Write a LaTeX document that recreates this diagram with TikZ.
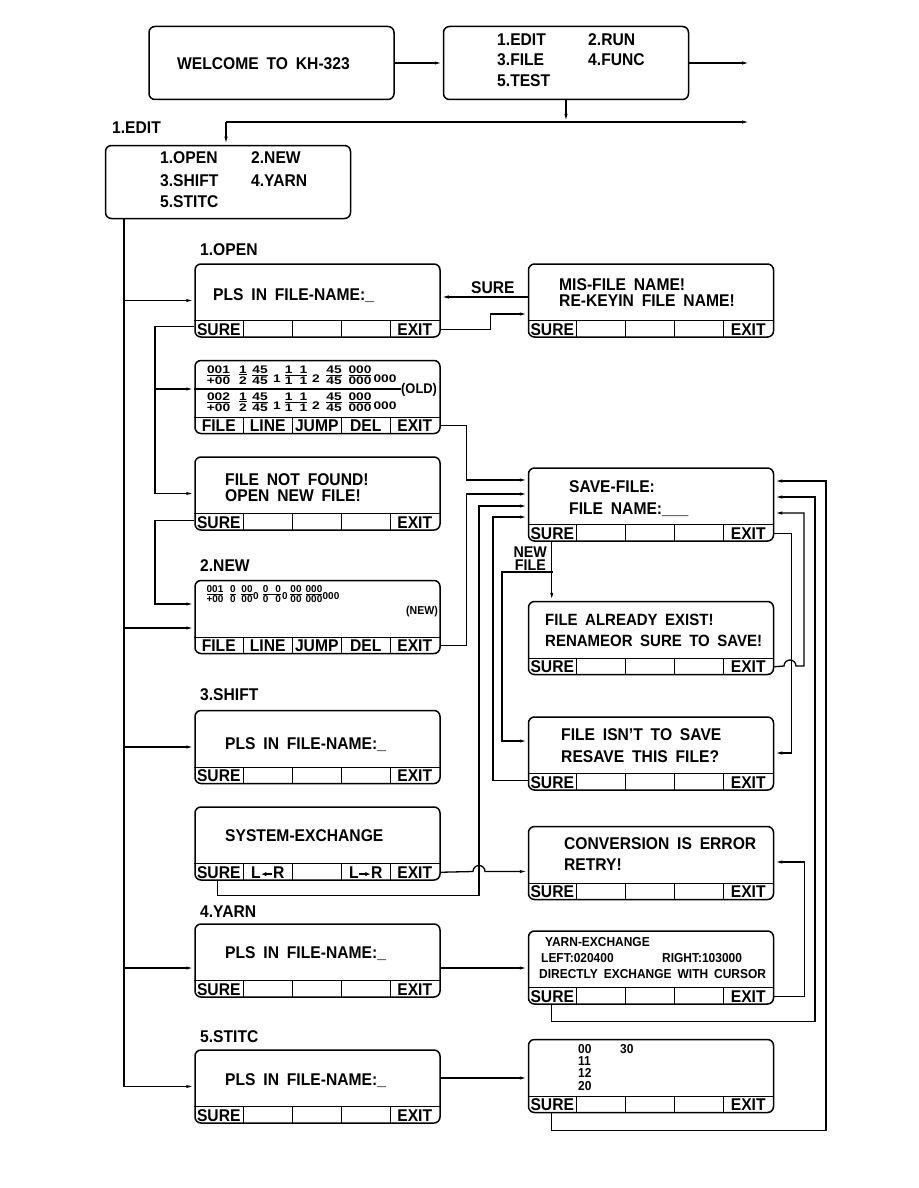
\documentclass[tikz,border=0pt]{standalone}
\usepackage{amsmath}
\usepackage{fontspec}
\setmainfont{Liberation Sans}[WordSpace=1.8,FakeStretch=0.92]
\newfontfamily\digf{Liberation Sans}[FakeStretch=1.25]
\newfontfamily\digs{Liberation Sans}
\usepackage{tikz}
\usetikzlibrary{arrows.meta,calc}
\tikzset{
  scr/.style={draw,line width=1.5pt,rounded corners=6pt,minimum width=245pt,minimum height=73pt,inner sep=0pt},
  ln/.style={line width=1.3pt},
  ar/.style={ln,-{Latex[length=8pt,width=3.2pt]}},
  tx/.style={anchor=base west,inner sep=0pt,font=\bfseries\fontsize{17}{18}\selectfont},
  sm/.style={anchor=base west,inner sep=0pt,font=\bfseries\fontsize{13}{14}\selectfont},
  key/.style={inner sep=0pt,font=\bfseries\fontsize{17}{17}\selectfont},
  fr/.style={inner sep=0pt,font=\digf\bfseries\fontsize{11}{11}\selectfont},
  frs/.style={inner sep=0pt,font=\digs\bfseries\fontsize{10}{10}\selectfont}
}
% soft keys along the bottom of a screen
\newcommand\fkeys[6]{%
  \draw[ln] ([yshift=17pt]#1.south west) -- ([yshift=17pt]#1.south east);
  \foreach \i in {1,...,4}
    \draw[ln] ([xshift=49pt*\i,yshift=17pt]#1.south west) -- ([xshift=49pt*\i]#1.south west);
  \foreach \k [count=\i] in {#2,#3,#4,#5,#6}
    \node[key] (#1-k\i) at ([xshift=49pt*\i-24.5pt,yshift=8.5pt]#1.south west) {\k};
}
\newcommand\fq[2]{\genfrac{}{}{1pt}{1}{\mbox{#1}}{\mbox{#2}}}
\newcommand\two[1]{#1\hspace{7pt}#1}
\newcommand\larr{\tikz[baseline=-4pt]\draw[{Latex[length=5pt,width=4.5pt]}-,line width=1.3pt] (0pt,0pt) -- (11pt,0pt);}
\newcommand\rarr{\tikz[baseline=-4pt]\draw[-{Latex[length=5pt,width=4.5pt]},line width=1.3pt] (0pt,0pt) -- (11pt,0pt);}

\begin{document}
\begin{tikzpicture}[x=1pt,y=-1pt]
\useasboundingbox (0,0) rectangle (918,1188);

% screens
\node[scr] (welcome) at (271.5,63) {};
\node[scr] (menu) at (566,63) {};
\node[scr] (edit) at (228,182) {};
\node[scr] (open) at (317.5,300.5) {};
\node[scr] (mis) at (651,300.5) {};
\node[scr] (old) at (317.5,397) {};
\node[scr] (nofile) at (317.5,493.5) {};
\node[scr] (new) at (317.5,617) {};
\node[scr] (shift) at (317.5,747) {};
\node[scr] (sysex) at (317.5,843.5) {};
\node[scr] (yarn) at (317.5,960.5) {};
\node[scr] (stitc) at (317.5,1086.5) {};
\node[scr] (save) at (651,504.5) {};
\node[scr] (exist) at (651,638) {};
\node[scr] (nosave) at (651,753.5) {};
\node[scr] (conv) at (651,863) {};
\node[scr] (yarnex) at (651,967.5) {};
\node[scr] (stlist) at (651,1076) {};

\fkeys{open}{SURE}{}{}{}{EXIT}
\fkeys{mis}{SURE}{}{}{}{EXIT}
\fkeys{old}{FILE}{LINE}{JUMP}{DEL}{EXIT}
\fkeys{nofile}{SURE}{}{}{}{EXIT}
\fkeys{new}{FILE}{LINE}{JUMP}{DEL}{EXIT}
\fkeys{shift}{SURE}{}{}{}{EXIT}
\fkeys{sysex}{SURE}{L\larr R}{}{L\rarr R}{EXIT}
\fkeys{yarn}{SURE}{}{}{}{EXIT}
\fkeys{stitc}{SURE}{}{}{}{EXIT}
\fkeys{save}{SURE}{}{}{}{EXIT}
\fkeys{exist}{SURE}{}{}{}{EXIT}
\fkeys{nosave}{SURE}{}{}{}{EXIT}
\fkeys{conv}{SURE}{}{}{}{EXIT}
\fkeys{yarnex}{SURE}{}{}{}{EXIT}
\fkeys{stlist}{SURE}{}{}{}{EXIT}

% texts
\node[tx] (t-wel) at (177,70) {WELCOME TO KH-323};
\node[tx] (t-m1) at (497,46) {1.EDIT};
\node[tx] (t-m2) at (588,46) {2.RUN};
\node[tx] (t-m3) at (497,66) {3.FILE};
\node[tx] (t-m4) at (588,66) {4.FUNC};
\node[tx] (t-m5) at (497,87) {5.TEST};
\node[tx] (l-edit) at (112,134) {1.EDIT};
\node[tx] (t-e1) at (160,164) {1.OPEN};
\node[tx] (t-e2) at (251,164) {2.NEW};
\node[tx] (t-e3) at (160,186) {3.SHIFT};
\node[tx] (t-e4) at (251,186) {4.YARN};
\node[tx] (t-e5) at (160,207) {5.STITC};
\node[tx] (l-open) at (200,255) {1.OPEN};
\node[tx] (t-open) at (213,300) {PLS IN FILE-NAME:\_};
\node[tx] (t-mis1) at (559,290) {MIS-FILE NAME!};
\node[tx] (t-mis2) at (559,306) {RE-KEYIN FILE NAME!};
% old file lines
\foreach \r/\y/\lab in {1/375/001,2/402/002}{
  \foreach \x/\n/\d [count=\i] in {218.5/\lab/+00,243/1/2,260/45/45,296/\two{1}/\two{1},334/45/45,360/000/000}
    \node[fr] (old\r-f\i) at (\x,\y) {$\fq{\n}{\d}$};
  \foreach \x/\s [count=\i] in {277/1,316/2,385/000}
    \node[fr] (old\r-d\i) at (\x,\y+4) {\s};
}
\draw[ln] (old.west |- 0,389) -- (401,389);
\node[anchor=west,inner sep=0pt,font=\bfseries\fontsize{14}{14}\selectfont] (t-oldtag) at (401,390) {(OLD)};
\node[tx] (t-nf1) at (225,485) {FILE NOT FOUND!};
\node[tx] (t-nf2) at (225,501) {OPEN NEW FILE!};
\node[tx] (l-new) at (200,571) {2.NEW};
% new file line
\foreach \x/\n/\d [count=\i] in {215/001/+00,233/0/0,247/00/00,272/\two{0}/\two{0},296/00/00,314/000/000}
  \node[frs] (new-f\i) at (\x,594) {$\fq{\n}{\d}$};
\foreach \x/\s [count=\i] in {256/0,285/0,331/000}
  \node[frs] (new-d\i) at (\x,596) {\s};
\node[anchor=west,inner sep=0pt,font=\bfseries\fontsize{11.5}{12}\selectfont] (t-newtag) at (406,612) {(NEW)};
\node[tx] (t-sv1) at (569,492) {SAVE-FILE:};
\node[tx] (t-sv2) at (569,514) {FILE NAME:\_\_\_};
\node[tx,font=\bfseries\fontsize{16.3}{18}\selectfont] (t-ex1) at (545,625) {FILE ALREADY EXIST!};
\node[tx,font=\bfseries\fontsize{16.3}{18}\selectfont] (t-ex2) at (545,646) {RENAMEOR SURE TO SAVE!};
\node[tx] (l-shift) at (200,700) {3.SHIFT};
\node[tx] (t-shift) at (225,749) {PLS IN FILE-NAME:\_};
\node[tx] (t-ns1) at (561,740) {FILE ISN'T TO SAVE};
\node[tx] (t-ns2) at (561,762) {RESAVE THIS FILE?};
\node[tx] (t-sys) at (225,841) {SYSTEM-EXCHANGE};
\node[tx] (t-cv1) at (564,849) {CONVERSION IS ERROR};
\node[tx] (t-cv2) at (564,870) {RETRY!};
\node[tx] (l-yarn) at (200,917) {4.YARN};
\node[tx] (t-yarn) at (225,958) {PLS IN FILE-NAME:\_};
\node[sm] (t-yx1) at (545,946) {YARN-EXCHANGE};
\node[sm] (t-yx2) at (541,962) {LEFT:020400};
\node[sm] (t-yx3) at (662,962) {RIGHT:103000};
\node[sm] (t-yx4) at (539,978) {DIRECTLY EXCHANGE WITH CURSOR};
\node[tx] (l-stitc) at (200,1042) {5.STITC};
\node[tx] (t-stitc) at (225,1085) {PLS IN FILE-NAME:\_};
\node[sm] (t-st1) at (578,1053) {00};
\node[sm] (t-st2) at (620,1053) {30};
\node[sm] (t-st3) at (578,1065) {11};
\node[sm] (t-st4) at (578,1077) {12};
\node[sm] (t-st5) at (578,1090) {20};

% top menu
\coordinate (out1) at (750,63);
\coordinate (out2) at (750,122);
\coordinate (bus) at (226,122);
\draw[ar] (welcome) -- (menu);
\draw[ar] (menu) -- (out1);
\draw[ar] (menu.south) -- (menu.south |- bus);
\draw[ar] (bus) -- (out2);
\draw[ar] (bus) -- (bus |- edit.north);

% edit trunk
\coordinate (trunk) at (124,218.5);
\draw[ar] (trunk) |- (stitc.west);
\draw[ar] (trunk |- open.west) -- (open.west);
\draw[ar] (trunk |- 0,628) -- (new.west |- 0,628);
\draw[ar] (trunk |- shift.west) -- (shift.west);
\draw[ar] (trunk |- 0,968) -- (yarn.west |- 0,968);

% open
\draw[ar] (mis.west |- 0,297) -- node[key,pos=0.4,above=3pt] (l-sure) {SURE} (open.east |- 0,297);
\draw[ar] ([yshift=8.5pt]open.south east) -- ++(50,0) |- (mis.west |- 0,314);
\draw[ar] ([yshift=11pt]open.south west) -| (155,493.5) -- (nofile.west);
\draw[ar] (155,389) -- (old.west |- 0,389);
\draw[ar] ([yshift=10pt]nofile.south west) -| (155,604) -- (new.west |- 0,604);

% into save-file
\draw[ar] ([yshift=8.5pt]old.south east) -- ++(26,0) |- (save.west |- 0,480);
\draw[ar] ([yshift=8.5pt]new.south east) -- ++(26,0) |- (save.west |- 0,494);
\draw[ar] ([xshift=23pt]sysex.south west) -- ++(0,15) -| (479,506) -- (save.west |- 0,506);
\draw[ar] ([yshift=10pt]nosave.south west) -| (493,517) -- (save.west |- 0,517);
\draw[ar] ([yshift=8.5pt]sysex.south east) -- (473,871.5) arc[start angle=180,end angle=0,radius=6pt] -- (conv.west |- 0,871.5);

% save-file keys
\coordinate (nf) at (552.5,572);
\draw[ar] ([xshift=24pt]save.south west) -- ([xshift=24pt]exist.north west);
\draw[ar] (nf) -| (502,741) -- (nosave.west |- 0,741);
\node[key,anchor=base east,font=\bfseries\fontsize{15.5}{13}\selectfont] (l-nf1) at (547,557) {NEW};
\node[key,anchor=base east,font=\bfseries\fontsize{15.5}{13}\selectfont] (l-nf2) at (546,570.5) {FILE};
\draw[ar] ([yshift=8.5pt]save.south east) -- ++(17,0) |- (nosave.east |- 0,753);
\draw[ar] ([yshift=8.5pt]exist.south east) -- (784,666) arc[start angle=180,end angle=0,radius=6pt] -- (804,666) |- (save.east |- 0,513);
\draw[ar] ([xshift=24pt]yarnex.south west) -- ++(0,17) -| (815,497) -- (save.east |- 0,497);
\draw[ar] ([xshift=24pt]stlist.south west) -- ++(0,17) -| (826,481) -- (save.east |- 0,481);
\draw[ar] ([yshift=8.5pt]yarnex.south east) -- ++(30,0) |- (conv.east |- 0,862);

% yarn, stitc
\draw[ar] (yarn.east |- 0,968) -- (yarnex.west |- 0,968);
\draw[ar] (stitc.east |- 0,1078) -- (stlist.west |- 0,1078);
\end{tikzpicture}
\end{document}
